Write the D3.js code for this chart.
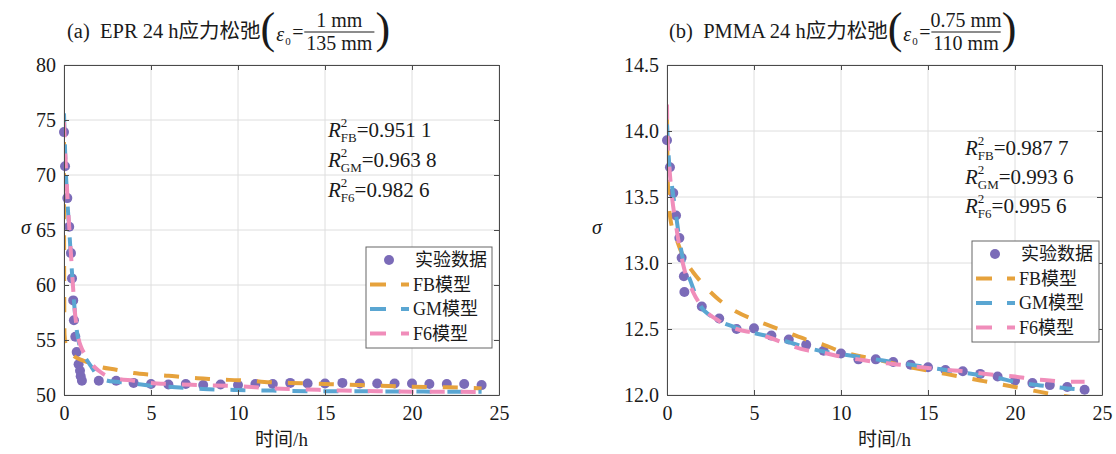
<!DOCTYPE html>
<html>
<head>
<meta charset="utf-8">
<script src="https://cdn.jsdelivr.net/npm/d3@7"></script>
<style>
  body { margin: 0; background: #fff; }
  text { font-family: "Liberation Serif", "Noto Sans CJK SC", serif; fill: #1a1a1a; }
</style>
</head>
<body>
<div id="chart"></div>
<script>
const width = 1116;
const height = 454;

// ---- data ----
// (a) EPR
const timeA = [0, 0.06, 0.19, 0.3, 0.4, 0.46, 0.53, 0.57, 0.65, 0.73, 0.84, 0.92, 0.96, 1.03,
  2, 3, 4, 5, 6, 7, 8, 9, 10, 11, 12, 13, 14, 15, 16, 17, 18, 19, 20, 21, 22, 23, 24];
const stressA = [73.9, 70.8, 67.9, 65.3, 62.9, 60.6, 58.6, 56.8, 55.3, 53.9, 52.8, 52.2, 51.7, 51.3,
  51.3, 51.3, 51.1, 51.0, 50.95, 51.0, 50.9, 50.95, 50.9, 51.0, 51.0, 51.1, 51.05, 51.05, 51.1,
  51.05, 51.05, 51.05, 51.05, 51.0, 51.0, 51.0, 50.9];
const fbA = [[0, 73], [0.01, 60], [0.03, 55.5], [0.1, 54.6], [0.3, 54.0], [0.6, 53.5], [1, 53.2],
  [1.5, 52.9], [2, 52.6], [3, 52.3], [4, 52.0], [5, 51.85], [6, 51.75], [7, 51.6], [8, 51.5],
  [9, 51.4], [10, 51.35], [11, 51.25], [12, 51.15], [13, 51.1], [14, 51.05], [15, 51.0],
  [16, 50.95], [17, 50.9], [18, 50.85], [20, 50.75], [22, 50.7], [24, 50.6]];
const gmA = [[0, 75.6], [0.1, 70.5], [0.2, 67.5], [0.3, 65], [0.4, 62.5], [0.5, 60.2], [0.6, 58],
  [0.7, 56.3], [0.85, 54.8], [1, 54.0], [1.3, 53.2], [1.6, 52.5], [2, 51.6], [2.5, 51.3],
  [3, 51.2], [4, 51.05], [5, 50.85], [6, 50.75], [7, 50.65], [8, 50.55], [10, 50.45],
  [12, 50.4], [14, 50.35], [16, 50.35], [18, 50.33], [20, 50.32], [22, 50.3], [24, 50.3]];
const f6A = [[0, 74.8], [0.1, 71], [0.2, 68], [0.3, 65.3], [0.4, 62.8], [0.5, 60.3], [0.6, 58],
  [0.7, 56.5], [0.85, 55.0], [1, 54.3], [1.3, 53.5], [1.6, 52.8], [2, 52.2], [2.5, 51.7],
  [3, 51.5], [4, 51.3], [5, 51.1], [6, 51.0], [8, 50.9], [10, 50.8], [12, 50.6], [14, 50.5],
  [16, 50.4], [18, 50.35], [20, 50.3], [22, 50.3], [24, 50.25]];

// (b) PMMA
const timeB = [0, 0.17, 0.36, 0.52, 0.71, 0.84, 0.97, 1.0,
  2, 3, 4, 5, 6, 7, 8, 9, 10, 11, 12, 13, 14, 15, 16, 17, 18, 19, 20, 21, 22, 23, 24];
const stressB = [13.93, 13.725, 13.53, 13.36, 13.19, 13.04, 12.90, 12.78,
  12.67, 12.58, 12.50, 12.505, 12.45, 12.42, 12.38, 12.335, 12.315, 12.27, 12.27, 12.25,
  12.23, 12.21, 12.19, 12.18, 12.16, 12.14, 12.11, 12.09, 12.075, 12.06, 12.04];
const fbB = [[0, 14.1], [0.05, 13.6], [0.2, 13.33], [0.5, 13.2], [1, 13.03], [1.5, 12.93],
  [2, 12.85], [3, 12.72], [4, 12.63], [5, 12.57], [6, 12.52], [7, 12.47], [8, 12.42],
  [9, 12.38], [10, 12.33], [12, 12.27], [14, 12.21], [16, 12.16], [18, 12.11], [20, 12.06],
  [22, 12.01], [24, 11.97]];
const gmB = [[0, 14.05], [0.1, 13.8], [0.3, 13.57], [0.5, 13.38], [0.75, 13.15], [1, 12.98],
  [1.3, 12.88], [1.9, 12.68], [2.5, 12.6], [3, 12.56], [4, 12.51], [5, 12.47], [6, 12.44],
  [7, 12.4], [8, 12.36], [9, 12.33], [10, 12.31], [11, 12.29], [12, 12.27], [13, 12.25],
  [14, 12.23], [15, 12.21], [16, 12.19], [17, 12.17], [18, 12.15], [19, 12.13], [20, 12.1],
  [21, 12.08], [22, 12.065], [23, 12.05], [24, 12.04]];
const f6B = [[0, 14.2], [0.02, 14.0], [0.1, 13.8], [0.25, 13.55], [0.5, 13.3], [0.75, 13.1],
  [1, 12.95], [1.5, 12.78], [2, 12.67], [3, 12.56], [4, 12.5], [5, 12.47], [6, 12.43],
  [7, 12.38], [8, 12.34], [9, 12.32], [10, 12.29], [11, 12.27], [12, 12.25], [13, 12.235],
  [14, 12.22], [15, 12.205], [16, 12.19], [17, 12.18], [18, 12.165], [19, 12.15], [20, 12.14],
  [21, 12.12], [22, 12.11], [23, 12.1], [24, 12.1]];

const ticksX = [0, 5, 10, 15, 20, 25];
const ticksYA = [50, 55, 60, 65, 70, 75, 80];
const ticksYB = [12.0, 12.5, 13.0, 13.5, 14.0, 14.5];

const seriesNames = ["实验数据", "FB模型", "GM模型", "F6模型"];
const r2A = [["FB", "0.951 1"], ["GM", "0.963 8"], ["F6", "0.982 6"]];
const r2B = [["FB", "0.987 7"], ["GM", "0.993 6"], ["F6", "0.995 6"]];

const colors = {exp: "#7b6bb8", fb: "#e6a23c", gm: "#5aa6d2", f6: "#f08dba"};

const svg = d3.select("#chart").append("svg")
  .attr("width", width)
  .attr("height", height);

function drawPanel(cfg) {
  const x = d3.scaleLinear().domain([0, 25]).range([cfg.left, cfg.right]);
  const y = d3.scaleLinear().domain(cfg.yDomain).range([cfg.bottom, cfg.top]);
  const g = svg.append("g");

  // grid
  g.selectAll("line.gx").data(ticksX).enter().append("line")
    .attr("x1", d => x(d)).attr("x2", d => x(d))
    .attr("y1", cfg.top).attr("y2", cfg.bottom)
    .attr("stroke", "#dedede").attr("stroke-width", 1);
  g.selectAll("line.gy").data(cfg.ticksY).enter().append("line")
    .attr("x1", cfg.left).attr("x2", cfg.right)
    .attr("y1", d => y(d)).attr("y2", d => y(d))
    .attr("stroke", "#dedede").attr("stroke-width", 1);

  const clipId = "clip" + cfg.id;
  svg.append("clipPath").attr("id", clipId).append("rect")
    .attr("x", cfg.left).attr("y", cfg.top)
    .attr("width", cfg.right - cfg.left).attr("height", cfg.bottom - cfg.top);

  // experimental points
  g.append("g").selectAll("circle")
    .data(cfg.time.map((t, i) => [t, cfg.stress[i]]))
    .enter().append("circle")
    .attr("cx", d => x(d[0])).attr("cy", d => y(d[1]))
    .attr("r", 5)
    .attr("fill", colors.exp);

  const line = d3.line().x(d => x(d[0])).y(d => y(d[1])).curve(d3.curveMonotoneX);
  [[cfg.fb, colors.fb], [cfg.gm, colors.gm], [cfg.f6, colors.f6]].forEach(([data, c]) => {
    g.append("path")
      .datum(data)
      .attr("clip-path", `url(#${clipId})`)
      .attr("d", line)
      .attr("fill", "none")
      .attr("stroke", c)
      .attr("stroke-width", 4)
      .attr("stroke-dasharray", "15,16");
  });

  // axes (MATLAB style, ticks inward, box on)
  const axisColor = "#4a4a4a";
  const bottom = g.append("g").attr("transform", `translate(0,${cfg.bottom})`)
    .call(d3.axisBottom(x).tickValues(ticksX).tickSize(-5).tickSizeOuter(0).tickPadding(11));
  const left = g.append("g").attr("transform", `translate(${cfg.left},0)`)
    .call(d3.axisLeft(y).tickValues(cfg.ticksY).tickFormat(cfg.fmt).tickSize(-5).tickSizeOuter(0).tickPadding(8));
  const top = g.append("g").attr("transform", `translate(0,${cfg.top})`)
    .call(d3.axisTop(x).tickValues(ticksX).tickSize(-5).tickSizeOuter(0).tickFormat(""));
  const right = g.append("g").attr("transform", `translate(${cfg.right},0)`)
    .call(d3.axisRight(y).tickValues(cfg.ticksY).tickSize(-5).tickSizeOuter(0).tickFormat(""));
  [bottom, left, top, right].forEach(a => {
    a.selectAll("path, line").attr("stroke", axisColor);
    a.selectAll("text").attr("font-size", 20).attr("font-family", "Liberation Serif").attr("fill", "#1a1a1a");
  });

  // axis labels
  svg.append("text")
    .attr("x", (cfg.left + cfg.right) / 2).attr("y", 446)
    .attr("text-anchor", "middle").attr("font-size", 19)
    .text("时间/h");
  svg.append("text")
    .attr("x", cfg.sigmaX).attr("y", (cfg.top + cfg.bottom) / 2 + 4)
    .attr("text-anchor", "middle").attr("font-size", 20).attr("font-style", "italic")
    .text("σ");

  drawTitle(cfg);
  drawR2(cfg);
  drawLegend(cfg);
}

function drawTitle(cfg) {
  const t = svg.append("text")
    .attr("x", cfg.titleX).attr("y", 38)
    .attr("font-size", 20.5)
    .attr("xml:space", "preserve")
    .text(cfg.title);
  let cx = cfg.titleX + t.node().getComputedTextLength();
  // tall parentheses around the strain expression
  const lp = svg.append("text")
    .attr("x", cx).attr("y", 43)
    .attr("font-size", 44)
    .text("(");
  cx += lp.node().getComputedTextLength() + 1;
  svg.append("text").attr("x", cx).attr("y", 41)
    .attr("font-size", 20).attr("font-style", "italic").text("ε");
  svg.append("text").attr("x", cx + 9).attr("y", 45)
    .attr("font-size", 11).text("0");
  svg.append("text").attr("x", cx + 16).attr("y", 39)
    .attr("font-size", 20).text("=");
  const fx = cx + 28;
  const den = svg.append("text").attr("x", fx + 2).attr("y", 50)
    .attr("font-size", 20).text(cfg.den);
  const dw = den.node().getComputedTextLength() + 4;
  den.attr("x", fx + dw / 2).attr("text-anchor", "middle");
  svg.append("text").attr("x", fx + dw / 2).attr("y", 27)
    .attr("text-anchor", "middle").attr("font-size", 20).text(cfg.num);
  svg.append("line")
    .attr("x1", fx).attr("x2", fx + dw).attr("y1", 32).attr("y2", 32)
    .attr("stroke", "#1a1a1a").attr("stroke-width", 1.1);
  svg.append("text")
    .attr("x", fx + dw + 1).attr("y", 43)
    .attr("font-size", 44)
    .text(")");
}

function drawR2(cfg) {
  cfg.r2.forEach((r, i) => {
    const yb = cfg.r2Y + i * cfg.r2Step;
    const R = svg.append("text").attr("x", cfg.r2X).attr("y", yb)
      .attr("font-size", 21).attr("font-style", "italic").text("R");
    const rw = R.node().getComputedTextLength();
    svg.append("text").attr("x", cfg.r2X + rw).attr("y", yb - 10)
      .attr("font-size", 13).text("2");
    const sub = svg.append("text").attr("x", cfg.r2X + rw).attr("y", yb + 5)
      .attr("font-size", 13).text(r[0]);
    const sw = sub.node().getComputedTextLength();
    svg.append("text").attr("x", cfg.r2X + rw + sw).attr("y", yb)
      .attr("font-size", 21).text("=" + r[1]);
  });
}

function drawLegend(cfg) {
  const L = cfg.legend;
  svg.append("rect")
    .attr("x", L.x).attr("y", L.y).attr("width", L.w).attr("height", L.h)
    .attr("fill", "#fff").attr("stroke", "#666").attr("stroke-width", 1);
  const keys = ["exp", "fb", "gm", "f6"];
  keys.forEach((k, i) => {
    const yy = L.y + 13 + i * 24.5;
    if (k === "exp") {
      svg.append("circle").attr("cx", L.x + 23).attr("cy", yy).attr("r", 5)
        .attr("fill", colors.exp);
    } else {
      svg.append("line")
        .attr("x1", L.x + 4).attr("x2", L.x + 43).attr("y1", yy).attr("y2", yy)
        .attr("stroke", colors[k]).attr("stroke-width", 4)
        .attr("stroke-dasharray", "16,15");
    }
    svg.append("text")
      .attr("x", L.x + (k === "exp" ? 49 : 47)).attr("y", yy + 6)
      .attr("font-size", 18)
      .text(seriesNames[i]);
  });
}

drawPanel({
  id: "a", left: 64, right: 499, top: 65, bottom: 395,
  yDomain: [50, 80], ticksY: ticksYA, fmt: d3.format("d"),
  time: timeA, stress: stressA, fb: fbA, gm: gmA, f6: f6A,
  sigmaX: 26,
  titleX: 67, title: "(a)  EPR 24 h应力松弛", num: "1 mm", den: "135 mm",
  r2: r2A, r2X: 328, r2Y: 137, r2Step: 30,
  legend: {x: 366, y: 247, w: 126, h: 101}
});

drawPanel({
  id: "b", left: 667, right: 1102, top: 65, bottom: 395,
  yDomain: [12, 14.5], ticksY: ticksYB, fmt: d3.format(".1f"),
  time: timeB, stress: stressB, fb: fbB, gm: gmB, f6: f6B,
  sigmaX: 597,
  titleX: 669, title: "(b)  PMMA 24 h应力松弛", num: "0.75 mm", den: "110 mm",
  r2: r2B, r2X: 965, r2Y: 155, r2Step: 29,
  legend: {x: 972, y: 241, w: 127, h: 101}
});
</script>
</body>
</html>
